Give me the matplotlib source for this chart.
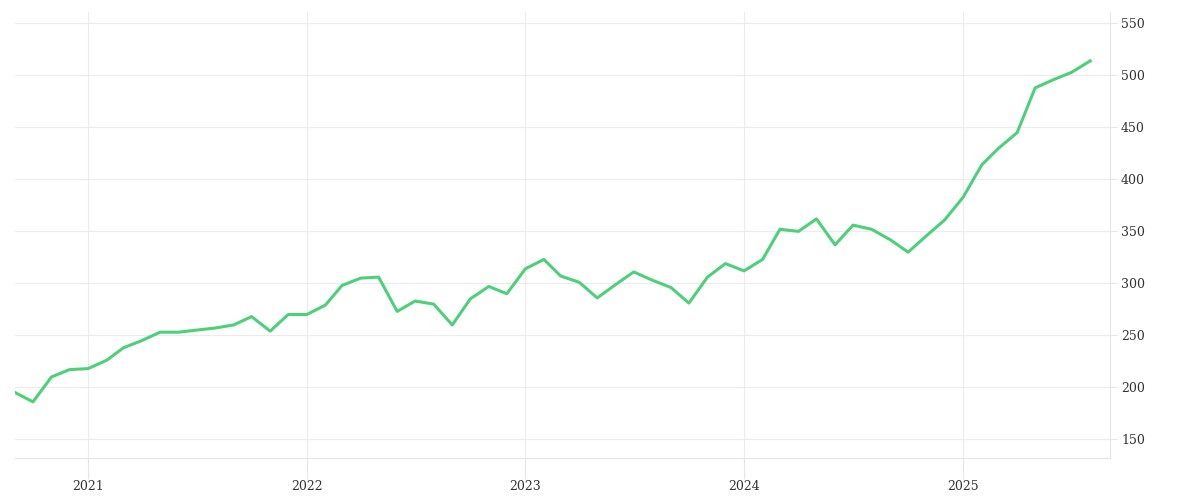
import matplotlib
matplotlib.use("Agg")
import matplotlib.pyplot as plt
import pandas as pd

months = pd.date_range("2020-09-01", "2025-08-01", freq="MS")
values = [
    195, 186, 210, 217,
    218, 226, 238, 245, 253, 253, 255, 257, 260, 268, 254, 270,
    270, 279, 298, 305, 306, 273, 283, 280, 260, 285, 297, 290,
    314, 323, 307, 301, 286, 299, 311, 303, 296, 281, 306, 319,
    312, 323, 352, 350, 362, 337, 356, 352, 342, 330, 346, 361,
    383, 414, 430, 445, 488, 496, 503, 514,
]
year_ticks = pd.to_datetime(["2021-01-01", "2022-01-01", "2023-01-01", "2024-01-01", "2025-01-01"])
year_labels = ["2021", "2022", "2023", "2024", "2025"]
y_ticks = [150, 200, 250, 300, 350, 400, 450, 500, 550]

fig = plt.figure(figsize=(12, 5), dpi=100)
ax = fig.add_axes([15 / 1200, 1 - 458 / 500, (1110 - 15) / 1200, (458 - 12) / 500])

ax.plot(months, values, color="#4ed07a", linewidth=2.2)

ax.set_xlim(pd.Timestamp("2020-09-01"), pd.Timestamp("2025-09-03"))
ax.set_ylim(132, 561)
ax.set_xticks(year_ticks)
ax.set_xticklabels(year_labels)
ax.set_yticks(y_ticks)
ax.yaxis.tick_right()

ax.grid(True, color="#ececec", linewidth=0.8)
for s in ["top", "left"]:
    ax.spines[s].set_visible(False)
ax.spines["bottom"].set_color("#e6e6e6")
ax.spines["right"].set_color("#e6e6e6")
ax.tick_params(axis="both", colors="#e6e6e6", labelcolor="#333333",
               labelsize=9, width=0.8)
ax.tick_params(axis="x", length=15, pad=1)
ax.tick_params(axis="y", length=5, pad=3)
for lab in ax.get_xticklabels() + ax.get_yticklabels():
    lab.set_fontfamily("DejaVu Serif")

fig.savefig("out.png", dpi=100)
